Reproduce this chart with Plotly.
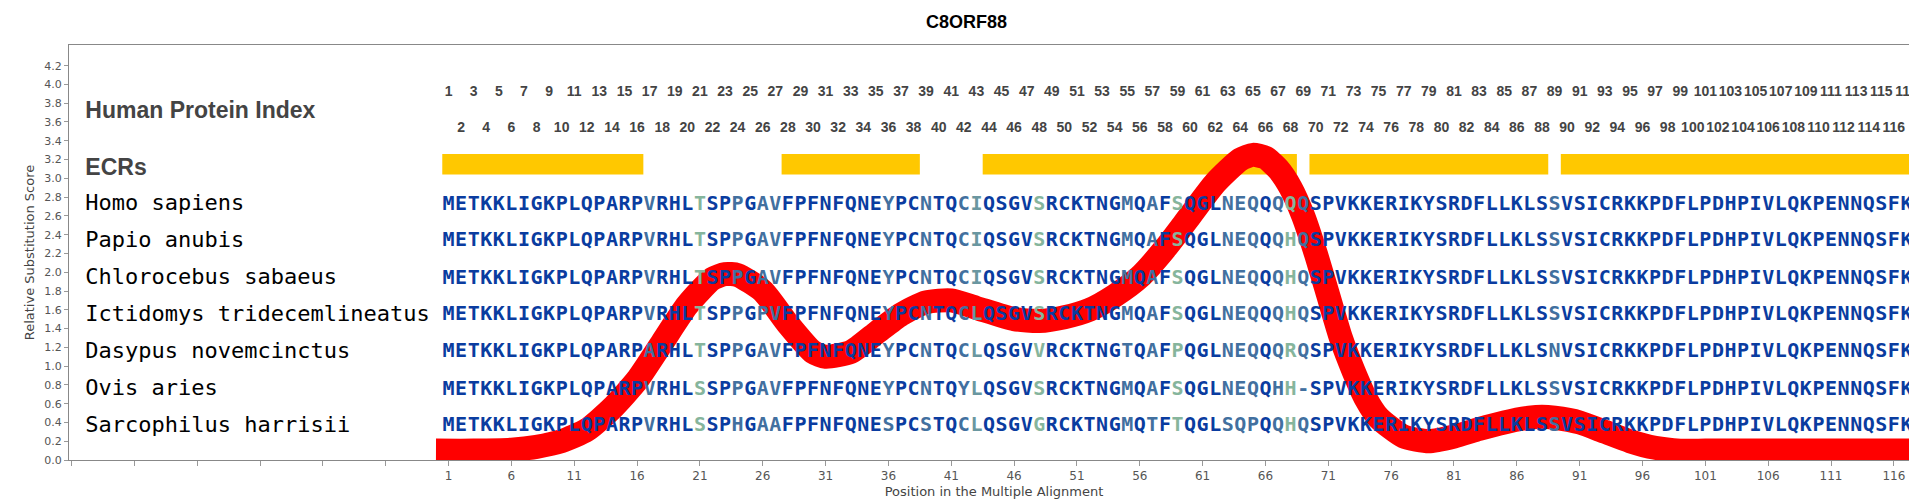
import plotly.graph_objects as go
from collections import Counter

# alignment
species = ["Homo sapiens", "Papio anubis", "Chlorocebus sabaeus",
           "Ictidomys tridecemlineatus", "Dasypus novemcinctus",
           "Ovis aries", "Sarcophilus harrisii"]
sequences = [
    "METKKLIGKPLQPARPVRHLTSPPGAVFPFNFQNEYPCNTQCIQSGVSRCKTNGMQAFSQGLNEQQQQQSPVKKERIKYSRDFLLKLSSVSICRKKPDFLPDHPIVLQKPENNQSFK",
    "METKKLIGKPLQPARPVRHLTSPPGAVFPFNFQNEYPCNTQCIQSGVSRCKTNGMQAFSQGLNEQQQHQSPVKKERIKYSRDFLLKLSSVSICRKKPDFLPDHPIVLQKPENNQSFK",
    "METKKLIGKPLQPARPVRHLTSPPGAVFPFNFQNEYPCNTQCIQSGVSRCKTNGMQAFSQGLNEQQQHQSPVKKERIKYSRDFLLKLSSVSICRKKPDFLPDHPIVLQKPENNQSFK",
    "METKKLIGKPLQPARPVRHLTSPPGPVFPFNFQNEYPCNTQCLQSGVSRCKTNGMQAFSQGLNEQQQHQSPVKKERIKYSRDFLLKLSSVSICRKKPDFLPDHPIVLQKPENNQSFK",
    "METKKLIGKPLQPARPARHLTSPPGAVFPFNFQNEYPCNTQCLQSGVVRCKTNGTQAFPQGLNEQQQRQSPVKKERIKYSRDFLLKLSNVSICRKKPDFLPDHPIVLQKPENNQSFK",
    "METKKLIGKPLQPARPVRHLSSPPGAVFPFNFQNEYPCNTQYLQSGVSRCKTNGMQAFSQGLNEQQHH-SPVKKERIKYSRDFLLKLSSVSICRKKPDFLPDHPIVLQKPENNQSFK",
    "METKKLIGKPLQPARPVRHLSSPHGAAFPFNFQNESPCSTQCLQSGVGRCKTNGMQTFTQGLSQPQQHQSPVKKERIKYSRDFLLKLSSVSICRKKPDFLPDHPIVLQKPENNQSFK",
]
row_y = [2.72, 2.33, 1.93, 1.54, 1.15, 0.75, 0.36]

# ECR ranges (human index)
ecr_start = [1, 28, 44, 70, 90]
ecr_end = [16, 38, 68, 88, 117]

# substitution score curve
score_x = [0, 3, 6, 8, 10, 12, 14, 16, 18, 20, 22, 23, 24, 26, 28, 30, 31, 33, 35, 37, 39, 41,
           43, 46, 48, 50, 52, 54, 56, 58, 60, 62, 64, 65, 66, 67, 68, 69, 70, 71, 72, 73, 74, 75, 77,
           79, 81, 83, 85, 87, 88, 89, 91, 93, 95, 97, 99, 101, 105, 110, 117.9]
score_y = [0.1, 0.1, 0.11, 0.14, 0.2, 0.32, 0.55, 0.85, 1.25, 1.65, 1.93, 1.98, 1.97, 1.8, 1.45,
           1.15, 1.1, 1.15, 1.35, 1.55, 1.68, 1.7, 1.62, 1.5, 1.48, 1.52, 1.6, 1.75, 1.95, 2.25,
           2.6, 2.95, 3.2, 3.25, 3.22, 3.1, 2.9, 2.6, 2.2, 1.75, 1.3, 0.95, 0.65, 0.45, 0.25, 0.2,
           0.25, 0.33, 0.4, 0.45, 0.46, 0.45, 0.4, 0.3, 0.2, 0.13, 0.1, 0.1, 0.1, 0.1, 0.1]

level_colors = {7: "#0a3ca0", 6: "#42709f", 5: "#86b59c", 4: "#6a97a0"}

fig = go.Figure()

for s, e in zip(ecr_start, ecr_end):
    fig.add_shape(type="rect", x0=s - 0.5, x1=e + 0.5, y0=3.04, y1=3.26,
                  fillcolor="#ffc800", line=dict(width=0), layer="below")

fig.add_trace(go.Scatter(x=score_x, y=score_y, mode="lines",
                         line=dict(color="#ff0000", width=24, shape="spline", smoothing=0.6),
                         hoverinfo="skip"))

n = len(sequences[0])
# colour each column by how conserved it is
col_level = []
for i in range(n):
    col = [sq[i] for sq in sequences]
    col_level.append(min(7, max(4, Counter(col).most_common(1)[0][1])))

for lvl, color in level_colors.items():
    xs, ys, ts = [], [], []
    for sq, y in zip(sequences, row_y):
        for i, ch in enumerate(sq):
            if col_level[i] == lvl:
                xs.append(i + 1)
                ys.append(y)
                ts.append(ch)
    fig.add_trace(go.Scatter(x=xs, y=ys, text=ts, mode="text", hoverinfo="skip",
                             textfont=dict(family="DejaVu Sans Mono", size=20, color=color,
                                           weight="bold")))

# species names
fig.add_trace(go.Scatter(x=[-27.9] * len(species), y=row_y, text=species, mode="text",
                         textposition="middle right", hoverinfo="skip",
                         textfont=dict(family="DejaVu Sans Mono", size=22, color="black")))

# human protein index
idx = list(range(1, n + 1))
fig.add_trace(go.Scatter(x=idx, y=[3.91 if i % 2 else 3.53 for i in idx],
                         text=[str(i) for i in idx], mode="text", hoverinfo="skip",
                         textfont=dict(family="Liberation Sans", size=14, color="#444444",
                                       weight="bold")))
fig.add_trace(go.Scatter(x=[-27.9, -27.9], y=[3.7, 3.1], text=["Human Protein Index", "ECRs"],
                         mode="text", textposition="middle right", hoverinfo="skip",
                         textfont=dict(family="Liberation Sans", size=23, color="#444444",
                                       weight="bold")))

fig.update_layout(
    width=1917, height=500,
    margin=dict(l=61, r=6, t=37, b=48),
    title=dict(text="<b>C8ORF88</b>", x=0.5, xanchor="center", y=0.985,
               font=dict(family="Liberation Sans", size=18, color="black")),
    showlegend=False,
    plot_bgcolor="white", paper_bgcolor="white",
    font=dict(family="DejaVu Sans", size=12, color="#444444"),
)
fig.update_xaxes(range=[-29.2, 118.0], tickvals=list(range(1, 117, 5)),
                 ticks="outside", ticklen=5, tickcolor="#999999",
                 minor=dict(tickvals=list(range(-29, 1, 5)), ticks="outside", ticklen=5,
                            tickcolor="#999999"),
                 showgrid=False, zeroline=False, showline=True, linecolor="#888888", mirror=True,
                 tickfont=dict(size=12, color="#555555"),
                 title=dict(text="Position in the Multiple Alignment", font=dict(size=13),
                            standoff=4))
fig.update_yaxes(range=[0, 4.42], tickvals=[round(0.2 * i, 1) for i in range(22)],
                 tickformat=".1f", ticks="outside", ticklen=4, tickcolor="#999999",
                 showgrid=False, zeroline=False, showline=True, linecolor="#888888", mirror=True,
                 tickfont=dict(size=11, color="#555555"),
                 title=dict(text="Relative Substitution Score", font=dict(size=13), standoff=6))

fig.write_html("out.html")
